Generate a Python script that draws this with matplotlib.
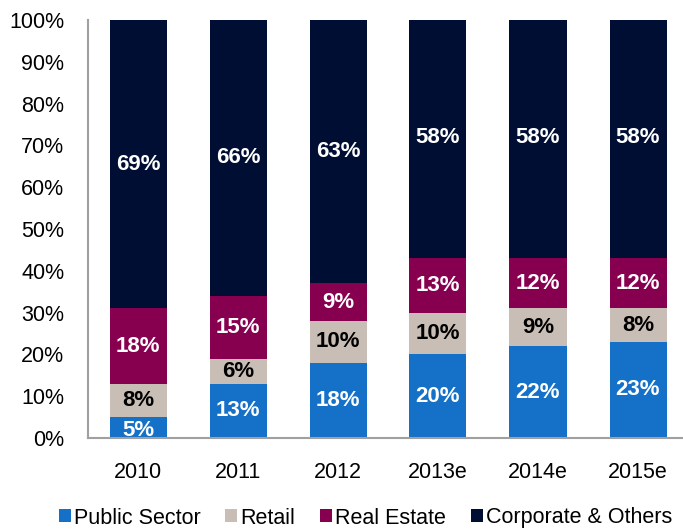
import matplotlib
matplotlib.use("Agg")
import matplotlib.pyplot as plt
import numpy as np

plt.rcParams['font.family'] = ['Liberation Sans', 'DejaVu Sans']

categories = ["2010", "2011", "2012", "2013e", "2014e", "2015e"]
public_sector = [5, 13, 18, 20, 22, 23]
retail = [8, 6, 10, 10, 9, 8]
real_estate = [18, 15, 9, 13, 12, 12]
corporate = [69, 66, 63, 58, 58, 58]

series = [
    ("Public Sector", public_sector, "#1570C8", "white"),
    ("Retail", retail, "#C9BEB5", "black"),
    ("Real Estate", real_estate, "#870050", "white"),
    ("Corporate & Others", corporate, "#000E33", "white"),
]

fig = plt.figure(figsize=(6.83, 5.30), dpi=100)
ax = fig.add_axes([88/683, (530-438)/530, (683-88)/683, (438-20)/530])

x = np.arange(len(categories))
bottom = np.zeros(len(categories))
for name, vals, color, tcolor in series:
    vals = np.array(vals, dtype=float)
    ax.bar(x, vals, 0.57, bottom=bottom, color=color, label=name,
           edgecolor='none', zorder=2)
    for xi, b, v in zip(x, bottom, vals):
        yc = b + v / 2
        if name == "Public Sector" and v < 8:
            yc = b + v / 2 - 0.6
        ax.text(xi, yc, f"{int(v)}%", ha='center', va='center', color=tcolor,
                fontsize=16, fontweight='bold', zorder=3)
    bottom += vals

ax.set_xlim(-0.5, 5.45)
ax.set_ylim(0, 100)
ax.set_yticks(np.arange(0, 101, 10))
ax.set_yticklabels([f"{v}%" for v in range(0, 101, 10)], fontsize=15.5)
ax.set_xticks(x)
ax.set_xticklabels(categories, fontsize=15.5)
ax.tick_params(axis='both', length=0)
ax.tick_params(axis='y', pad=17)
ax.tick_params(axis='x', pad=17)
for s in ['top', 'right']:
    ax.spines[s].set_visible(False)
ax.spines['left'].set_color('#A0A0A0')
ax.spines['bottom'].set_color('#A0A0A0')
ax.spines['left'].set_linewidth(1.5)
ax.spines['bottom'].set_linewidth(1.5)

leg = fig.legend(loc='center', bbox_to_anchor=(0.535, (530-518)/530), ncol=4,
                 frameon=False, fontsize=15.5, handlelength=0.55, handleheight=0.55,
                 handletextpad=0.15, columnspacing=1.15)

fig.savefig("out.png", dpi=100)
